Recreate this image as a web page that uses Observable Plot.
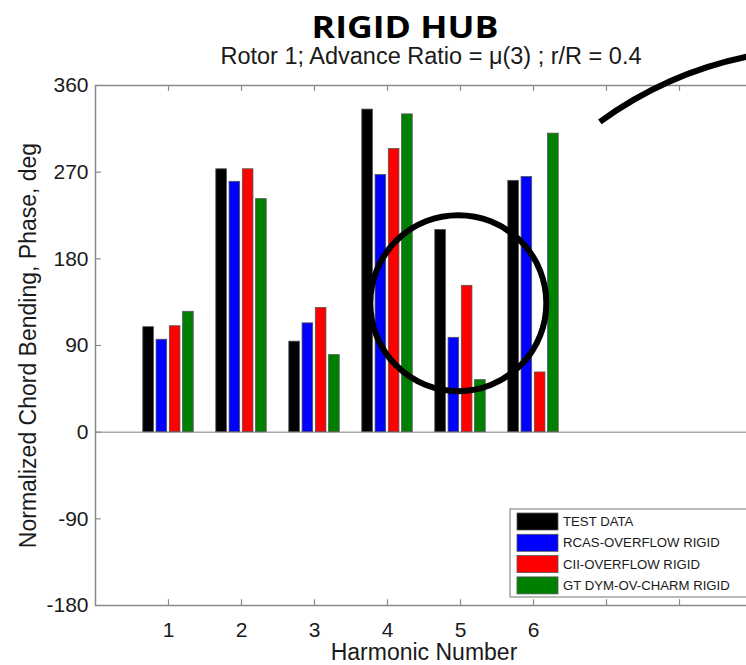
<!DOCTYPE html>
<html>
<head>
<meta charset="utf-8">
<script src="https://cdn.jsdelivr.net/npm/d3@7"></script>
<script src="https://cdn.jsdelivr.net/npm/@observablehq/plot@0.6"></script>
<style>
  html, body { margin: 0; padding: 0; background: #fff; overflow: hidden; }
  #page { position: relative; width: 746px; height: 665px; overflow: hidden; }
  #head { position: relative; height: 70px; }
  .title {
    position: absolute; left: 405px; top: 5px; line-height: 1; white-space: nowrap;
    font: 700 31px "Open Sans", sans-serif; color: #000;
    transform: translateX(-50%) scaleX(1.15);
  }
  .subtitle {
    position: absolute; left: 431px; top: 43px; line-height: 1; white-space: nowrap;
    font: 400 23.5px "Liberation Sans", Arial, sans-serif; color: #1a1a1a;
    transform: translateX(-50%);
  }
  #chart { width: 760px; }
  #chart svg { display: block; overflow: visible; max-width: none !important; }
</style>
</head>
<body>
<div id="page">
  <div id="head">
    <div class="title">RIGID HUB</div>
    <div class="subtitle">Rotor 1; Advance Ratio = μ(3) ; r/R = 0.4</div>
  </div>
  <div id="chart"></div>
</div>
<script>
// Harmonic numbers on the x axis and the four compared data sets.
const harmonics = [1, 2, 3, 4, 5, 6];
const seriesNames = ["TEST DATA", "RCAS-OVERFLOW RIGID", "CII-OVERFLOW RIGID", "GT DYM-OV-CHARM RIGID"];
const seriesColors = ["#000000", "#0000ff", "#ff0000", "#008000"];

// Normalized chord bending phase (deg) per harmonic.
const testData     = [109, 273,  94, 335, 210, 261];
const rcasOverflow = [ 96, 260, 113, 267,  98, 265];
const ciiOverflow  = [110, 273, 129, 294, 152,  62];
const gtDymOvCharm = [125, 242,  80, 330,  54, 310];

const yTicks = [-180, -90, 0, 90, 180, 270, 360];
const xTicks = [1, 2, 3, 4, 5, 6, 7, 8];
const xTickLabels = ["1", "2", "3", "4", "5", "6"];

// Highlighted harmonic (circled) in phase units
const highlight = [{harmonic: 4.97, phase: 134}];

const seriesValues = [testData, rcasOverflow, ciiOverflow, gtDymOvCharm];

// Grouped-bar geometry in x units (MATLAB-style grouping)
const nSeries = seriesValues.length;
const groupWidth = nSeries / (nSeries + 1.5);
const barWidth = groupWidth / nSeries * 0.8;

const rows = [];
seriesValues.forEach((vals, i) => {
  const off = (i - (nSeries - 1) / 2) * groupWidth / nSeries;
  vals.forEach((v, j) => {
    rows.push({
      harmonic: harmonics[j],
      series: seriesNames[i],
      color: seriesColors[i],
      value: v,
      x1: harmonics[j] + off - barWidth / 2,
      x2: harmonics[j] + off + barWidth / 2
    });
  });
});

const font = "'Liberation Sans', Arial, sans-serif";
const axisColor = "#8a8a8a";
const xDomain = [0, 9];
const yDomain = [-180, 360];

const chart = Plot.plot({
  width: 760,
  height: 595,
  marginLeft: 95,
  marginRight: 8,
  marginTop: 15,
  marginBottom: 60,
  style: {fontFamily: font, fontSize: "21px", color: "#1a1a1a", background: "transparent"},
  x: {domain: xDomain, axis: null},
  y: {domain: yDomain, axis: null},
  marks: [
    // baseline at zero
    Plot.ruleY([0], {stroke: "#aaaaaa", strokeWidth: 1.5}),
    // bars
    Plot.rectY(rows, {
      x1: "x1", x2: "x2", y1: 0, y2: "value",
      fill: "color", stroke: "#555", strokeWidth: 0.8
    }),
    // axes box
    Plot.frame({stroke: axisColor, strokeWidth: 1.5}),
    // inward ticks: left / right
    Plot.ruleY(yTicks.slice(1, -1), {x1: 0, x2: 0.08, stroke: axisColor, strokeWidth: 1.2}),
    Plot.ruleY(yTicks.slice(1, -1), {x1: 8.92, x2: 9, stroke: axisColor, strokeWidth: 1.2}),
    // inward ticks: bottom / top
    Plot.ruleX(xTicks, {y1: -180, y2: -174, stroke: axisColor, strokeWidth: 1.2}),
    Plot.ruleX(xTicks, {y1: 360, y2: 354, stroke: axisColor, strokeWidth: 1.2}),
    // tick labels
    Plot.text(yTicks, {x: 0, y: d => d, text: d => String(d), textAnchor: "end", dx: -7, fontSize: 21, fill: "#1a1a1a"}),
    Plot.text(xTickLabels, {x: d => +d, y: -180, text: d => d, dy: 25, fontSize: 21, fill: "#1a1a1a"}),
    // axis titles
    Plot.text(["Harmonic Number"], {x: 4.5, y: -180, dy: 47.5, fontSize: 23, fill: "#1a1a1a"}),
    Plot.text(["Normalized Chord Bending, Phase, deg"], {
      frameAnchor: "left", textAnchor: "middle", rotate: -90, dx: -67, fontSize: 23, fill: "#1a1a1a"
    }),
    // circled harmonic
    Plot.dot(highlight, {x: "harmonic", y: "phase", r: 88, stroke: "#000", strokeWidth: 6, fill: "none"})
  ]
});

document.getElementById("chart").appendChild(chart);

const svg = d3.select(chart);
const xs = chart.scale("x");
const ys = chart.scale("y");

// Pointer arc towards the neighbouring panel
const cx = xs.apply(10), cy = ys.apply(0), rArc = 383;
const arc = d3.path();
arc.arc(cx, cy, rArc, -126 * Math.PI / 180, -99 * Math.PI / 180, false);
svg.append("path")
  .attr("d", arc.toString())
  .attr("fill", "none")
  .attr("stroke", "#000")
  .attr("stroke-width", 6);

// Legend box, lower right inside the axes
const lg = svg.append("g").attr("transform", "translate(510,439)");
lg.append("rect")
  .attr("x", 0).attr("y", 0).attr("width", 260).attr("height", 88)
  .attr("fill", "#fff").attr("stroke", axisColor).attr("stroke-width", 1.2);
seriesNames.forEach((name, i) => {
  const row = lg.append("g").attr("transform", `translate(7,${4 + i * 21.3})`);
  row.append("rect")
    .attr("width", 41).attr("height", 17)
    .attr("fill", seriesColors[i]).attr("stroke", "#555").attr("stroke-width", 0.8);
  row.append("text")
    .attr("x", 46).attr("y", 8.5).attr("dy", "0.35em")
    .attr("text-anchor", "start")
    .attr("font-family", font).attr("font-size", 13.2)
    .attr("fill", "#1a1a1a")
    .text(name);
});
</script>
</body>
</html>
